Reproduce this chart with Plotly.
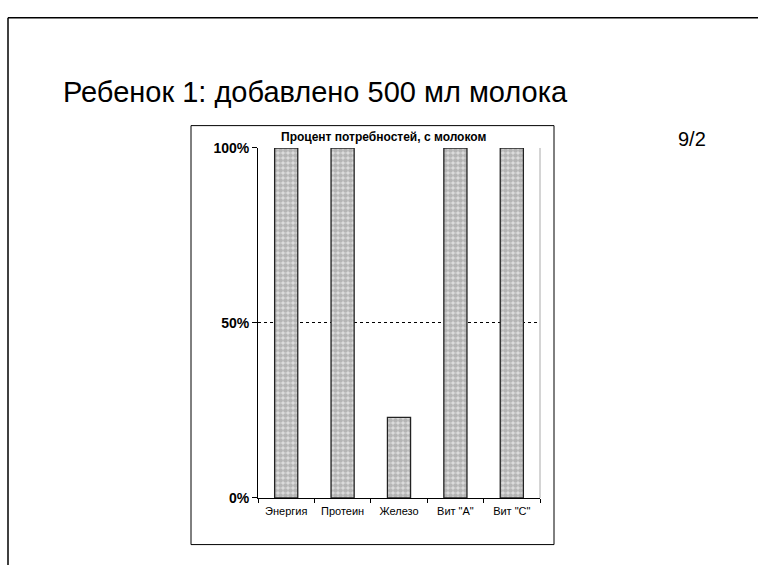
import plotly.graph_objects as go

categories = ["Энергия", "Протеин", "Железо", "Вит \"A\"", "Вит \"C\""]
values = [100, 100, 23, 100, 100]
tick_values = [0, 50, 100]
tick_labels = ["0%", "50%", "100%"]

W, H = 758, 573
FONT = "Liberation Sans, Arial, sans-serif"

def px(x):
    return x / W

def py(y):
    return 1 - y / H

fig = go.Figure()
fig.add_trace(go.Bar(
    x=categories,
    y=values,
    marker=dict(
        color="#c8c8c8",
        pattern=dict(shape=".", fgcolor="#8c8c8c", bgcolor="#dedede", size=5, solidity=0.7),
        line=dict(color="#222222", width=1.3),
    ),
    width=0.41,
))

fig.update_layout(
    width=W, height=H,
    margin=dict(l=0, r=0, t=0, b=0),
    paper_bgcolor="white",
    plot_bgcolor="white",
    showlegend=False,
    font=dict(family=FONT, color="black"),
    xaxis=dict(
        domain=[px(258), px(540)],
        type="category",
        showline=True, linecolor="black", linewidth=1,
        ticks="outside", tickson="boundaries", ticklen=4, tickcolor="black",
        tickfont=dict(size=11, family=FONT),
        ticklabelstandoff=3,
        showgrid=False,
    ),
    yaxis=dict(
        domain=[py(504), py(144)],
        range=[0, 100],
        tickvals=tick_values,
        ticktext=tick_labels,
        tickfont=dict(size=14, family=FONT, weight="bold"),
        showline=True, linecolor="black", linewidth=1,
        ticks="outside", ticklen=5, tickcolor="black",
        showgrid=True, gridcolor="black", griddash="dot", gridwidth=1,
        zeroline=False,
    ),
    shapes=[
        # slide border (top and left)
        dict(type="line", xref="paper", yref="paper", x0=px(8), x1=1, y0=py(10), y1=py(10),
             line=dict(color="black", width=1.5)),
        dict(type="line", xref="paper", yref="paper", x0=px(8), x1=px(8), y0=py(10), y1=0,
             line=dict(color="black", width=1.5)),
        # chart frame
        dict(type="rect", xref="paper", yref="paper", x0=px(191), x1=px(554), y0=py(552), y1=py(121),
             line=dict(color="black", width=1), layer="below"),
        # plot area right border
        dict(type="line", xref="paper", yref="paper", x0=px(540), x1=px(540), y0=py(504), y1=py(144),
             line=dict(color="#aaaaaa", width=1)),
    ],
    annotations=[
        dict(text="Ребенок 1: добавлено 500 мл молока", xref="paper", yref="paper",
             x=px(61), y=py(86), xanchor="left", yanchor="middle", showarrow=False,
             font=dict(size=29, family=FONT)),
        dict(text="9/2", xref="paper", yref="paper",
             x=px(692), y=py(135), xanchor="center", yanchor="middle", showarrow=False,
             font=dict(size=20, family=FONT)),
        dict(text="<b>Процент потребностей, с молоком</b>", xref="paper", yref="paper",
             x=px(383), y=py(133), xanchor="center", yanchor="middle", showarrow=False,
             font=dict(size=12, family=FONT)),
    ],
)

fig.write_html(
    "out.html",
    config={"displayModeBar": False},
    post_script="document.body.style.margin='0';document.body.style.overflow='hidden';",
)
